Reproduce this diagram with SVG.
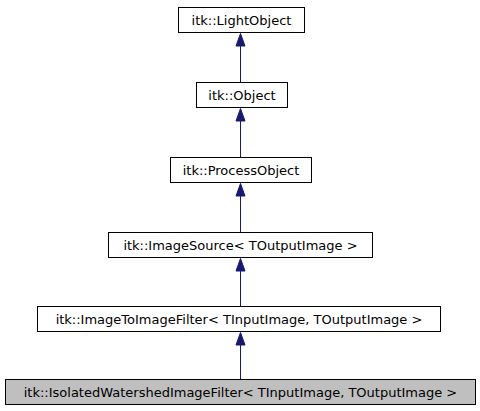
<svg xmlns="http://www.w3.org/2000/svg" width="480" height="411" viewBox="0 0 480 411">
<defs>
<style>
.box{fill:#ffffff;stroke:#000000;stroke-width:1}
.cur{fill:#bfbfbf;stroke:#000000;stroke-width:1}
.lbl{font-family:"DejaVu Sans","Liberation Sans",sans-serif;font-size:13px;fill:#000000;text-anchor:middle}
.edge{stroke:#191970;stroke-width:1;fill:none}
.head{fill:#191970;stroke:#191970;stroke-width:1}
</style>
</defs>
<rect width="480" height="411" fill="#ffffff"/>
<g id="connectors">
<line class="edge" x1="240.5" y1="82" x2="240.5" y2="45"/>
<polygon class="head" points="240.5,33.5 236,46 245,46"/>
<line class="edge" x1="240.5" y1="157" x2="240.5" y2="120"/>
<polygon class="head" points="240.5,108.5 236,121 245,121"/>
<line class="edge" x1="240.5" y1="232" x2="240.5" y2="195"/>
<polygon class="head" points="240.5,183.5 236,196 245,196"/>
<line class="edge" x1="240.5" y1="306" x2="240.5" y2="270"/>
<polygon class="head" points="240.5,258.5 236,271 245,271"/>
<line class="edge" x1="240.5" y1="379" x2="240.5" y2="344"/>
<polygon class="head" points="240.5,332.5 236,345 245,345"/>
</g>
<g id="node-lightobject">
<rect class="box" x="178.5" y="7.5" width="126" height="25"/>
<text class="lbl" x="241.5" y="25">itk::LightObject</text>
</g>
<g id="node-object">
<rect class="box" x="196.5" y="82.5" width="91" height="25"/>
<text class="lbl" x="242" y="100">itk::Object</text>
</g>
<g id="node-processobject">
<rect class="box" x="170.5" y="157.5" width="141" height="25"/>
<text class="lbl" x="241" y="175">itk::ProcessObject</text>
</g>
<g id="node-imagesource">
<rect class="box" x="108.5" y="232.5" width="264" height="25"/>
<text class="lbl" x="240.5" y="250">itk::ImageSource&lt; TOutputImage &gt;</text>
</g>
<g id="node-imagetoimagefilter">
<rect class="box" x="37.5" y="306.5" width="403" height="25"/>
<text class="lbl" x="239" y="324">itk::ImageToImageFilter&lt; TInputImage, TOutputImage &gt;</text>
</g>
<g id="node-isolatedwatershed">
<rect class="cur" x="5.5" y="379.5" width="470" height="25"/>
<text class="lbl" x="240.5" y="397">itk::IsolatedWatershedImageFilter&lt; TInputImage, TOutputImage &gt;</text>
</g>
</svg>
